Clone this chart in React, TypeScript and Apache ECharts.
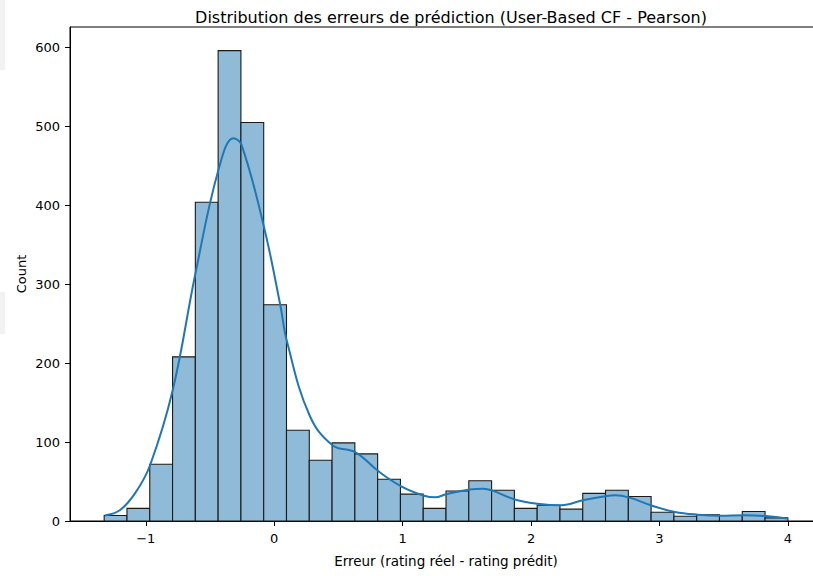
import React, { useEffect, useRef } from "react";
import * as echarts from "echarts";

// Histogram bins (30 bins from -1.324 to 4.0)
const binStart = -1.324;
const binEnd = 4.0;
const counts = [7, 16, 72, 208, 404, 596, 505, 274, 115, 77, 99, 85, 53, 34, 16, 38, 51, 39, 16, 20, 15, 35, 39, 31, 11, 6, 8, 7, 12, 4];

// KDE curve (estimated points)
const kdeX = [-1.32, -1.2, -1.08, -0.966, -0.79, -0.613, -0.434, -0.317, -0.255, -0.08, 0.047, 0.1, 0.275, 0.454, 0.633, 0.812, 0.989, 1.168, 1.254, 1.34, 1.52, 1.63, 1.7, 1.88, 2.05, 2.235, 2.41, 2.59, 2.655, 2.767, 2.95, 3.12, 3.3, 3.476, 3.65, 3.83, 4.0];
const kdeY = [7, 14, 36, 71, 166, 314, 445, 485, 477, 373, 274, 227, 134, 96, 87, 63, 44, 32, 30, 34, 40, 41, 38.5, 27, 22, 20, 26.6, 31.7, 32.6, 29.6, 19, 11.4, 8, 6.7, 7.2, 6.3, 3];

const xTicks = [-1, 0, 1, 2, 3, 4];

const titleText = "Distribution des erreurs de prédiction (User-Based CF - Pearson)";
const xName = "Erreur (rating réel - rating prédit)";
const yName = "Count";

export default function App() {
  const ref = useRef<HTMLDivElement>(null);
  useEffect(() => {
    if (!ref.current) return;
    const chart = echarts.init(ref.current, undefined, { renderer: "svg" });
    const bw = (binEnd - binStart) / counts.length;
    const bars = counts.map((c, i) => [binStart + i * bw, binStart + (i + 1) * bw, c]);
    const font = "DejaVu Sans";
    chart.setOption({
      animation: false,
      backgroundColor: "#ffffff",
      title: {
        text: titleText,
        left: 446,
        textAlign: "center",
        top: 4,
        textStyle: { fontFamily: font, fontSize: 16, fontWeight: "normal", color: "#000" },
      },
      graphic: [
        { type: "rect", shape: { x: 0, y: 0, width: 5, height: 70 }, style: { fill: "#f2f2f2" }, silent: true },
        { type: "rect", shape: { x: 0, y: 292, width: 5, height: 42 }, style: { fill: "#f2f2f2" }, silent: true },
      ],
      grid: {
        left: 70,
        width: 752,
        top: 27,
        bottom: 55,
        show: true,
        borderColor: "#000",
        borderWidth: 1,
        backgroundColor: "transparent",
        containLabel: false,
        outerBoundsMode: "none",
      },
      xAxis: {
        type: "value",
        min: -1.5902,
        max: 4.266,
        splitLine: { show: false },
        axisLine: { show: true, onZero: false, lineStyle: { color: "#000", width: 1 } },
        axisTick: { show: true, length: 5, lineStyle: { color: "#000" }, customValues: xTicks },
        axisLabel: {
          customValues: xTicks,
          color: "#000",
          fontFamily: font,
          fontSize: 13,
          margin: 11,
          formatter: (v: number) => (v < 0 ? "\u2212" + Math.abs(v) : String(v)),
        },
        name: xName,
        nameLocation: "middle",
        nameGap: 33,
        nameMoveOverlap: false,
        nameTextStyle: { fontFamily: font, fontSize: 13.5, color: "#000" },
      },
      yAxis: {
        type: "value",
        min: 0,
        max: 626,
        interval: 100,
        splitLine: { show: false },
        axisLine: { show: true, onZero: false, lineStyle: { color: "#000", width: 1 } },
        axisTick: { show: true, length: 5, lineStyle: { color: "#000" } },
        axisLabel: { color: "#000", fontFamily: font, fontSize: 13, margin: 10, showMaxLabel: false },
        name: yName,
        nameLocation: "middle",
        nameGap: 42,
        nameMoveOverlap: false,
        nameTextStyle: { fontFamily: font, fontSize: 13, color: "#000" },
      },
      series: [
        {
          type: "custom",
          data: bars,
          encode: { x: [0, 1], y: 2 },
          renderItem: (params: any, api: any) => {
            const p0 = api.coord([api.value(0), 0]);
            const p1 = api.coord([api.value(1), api.value(2)]);
            return {
              type: "rect",
              shape: { x: p0[0], y: p1[1], width: p1[0] - p0[0], height: p0[1] - p1[1] },
              style: { fill: "#8fbbd9", stroke: "#1a1a1a", lineWidth: 1.1 },
            };
          },
          z: 2,
        },
        {
          type: "line",
          data: kdeX.map((x, i) => [x, kdeY[i]]),
          smooth: 0.4,
          showSymbol: false,
          lineStyle: { color: "#1f77b4", width: 2 },
          z: 3,
        },
      ],
    });
    return () => chart.dispose();
  }, []);
  return <div ref={ref} style={{ width: 813, height: 576, position: "absolute", left: 0, top: 0 }} />;
}
